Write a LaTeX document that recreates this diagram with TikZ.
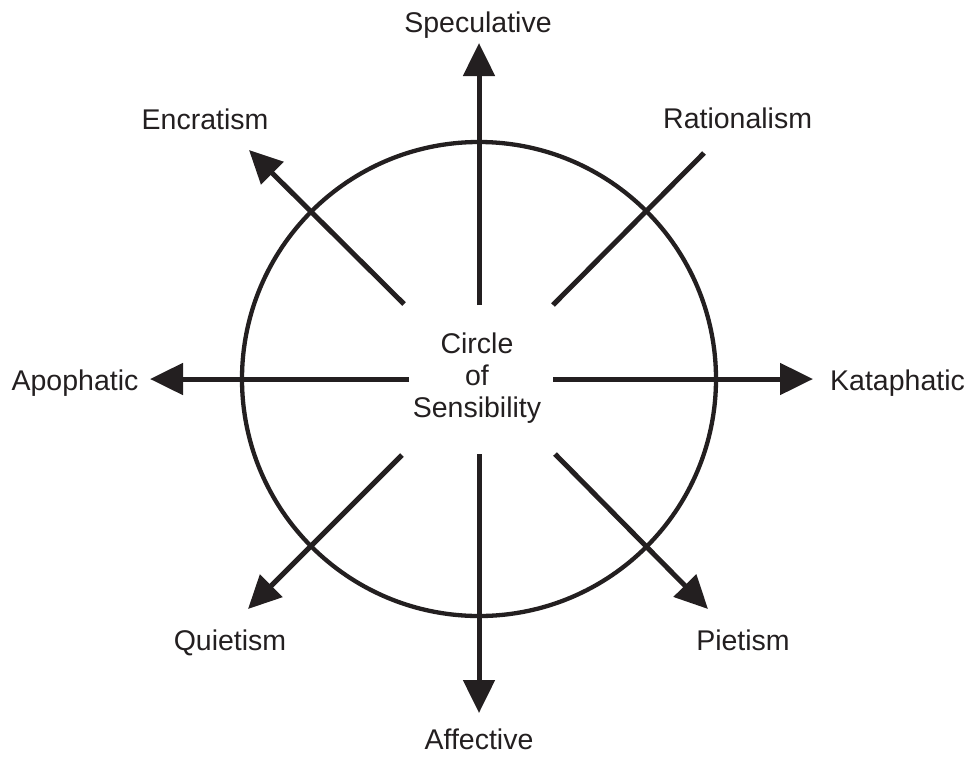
\documentclass[tikz,border=0pt]{standalone}
\usepackage{fontspec}
\setmainfont{Liberation Sans}
\usetikzlibrary{arrows.meta}
\definecolor{ink}{HTML}{231F20}
\begin{document}
\begin{tikzpicture}[x=1pt,y=-1pt,
  lbl/.style={anchor=base, inner sep=0pt, text=ink, font=\fontsize{28.5}{32}\selectfont},
  ray/.style={draw=ink, line width=5pt},
  arr/.style={ray, -{Triangle[length=33pt,width=31pt]}}]
\useasboundingbox (0,0) rectangle (967,756);
\draw[draw=ink, line width=4.3pt] (479,379) circle[radius=237pt];
\node[lbl, anchor=center, align=center] (mid) at (477,378) {Circle\\of\\Sensibility};
% labels
\node[lbl] (spec) at (478,32) {Speculative};
\node[lbl] (encr) at (205,129) {Encratism};
\node[lbl, anchor=base west] (rat) at (663,128) {Rationalism};
\node[lbl] (apo) at (75,390) {Apophatic};
\node[lbl, anchor=base west] (kat) at (830,390) {Kataphatic};
\node[lbl] (qui) at (230,650) {Quietism};
\node[lbl] (pie) at (743,650) {Pietism};
\node[lbl] (aff) at (479,749) {Affective};
% ray ends
\coordinate (upA) at (479,305); \coordinate (upB) at (479,43);
\coordinate (dnA) at (479,454); \coordinate (dnB) at (479,713);
\coordinate (lfA) at (409,379); \coordinate (lfB) at (150,379);
\coordinate (rtA) at (553,379); \coordinate (rtB) at (813,379);
\coordinate (nwA) at (404,304); \coordinate (nwB) at (249,150);
\coordinate (neA) at (553,305); \coordinate (neB) at (704,153);
\coordinate (swA) at (402,455); \coordinate (swB) at (248,609);
\coordinate (seA) at (555,454); \coordinate (seB) at (708,609);
\draw[arr] (upA) -- (upB);
\draw[arr] (dnA) -- (dnB);
\draw[arr] (lfA) -- (lfB);
\draw[arr] (rtA) -- (rtB);
\draw[arr] (nwA) -- (nwB);
\draw[ray] (neA) -- (neB);
\draw[arr] (swA) -- (swB);
\draw[arr] (seA) -- (seB);
\end{tikzpicture}
\end{document}
